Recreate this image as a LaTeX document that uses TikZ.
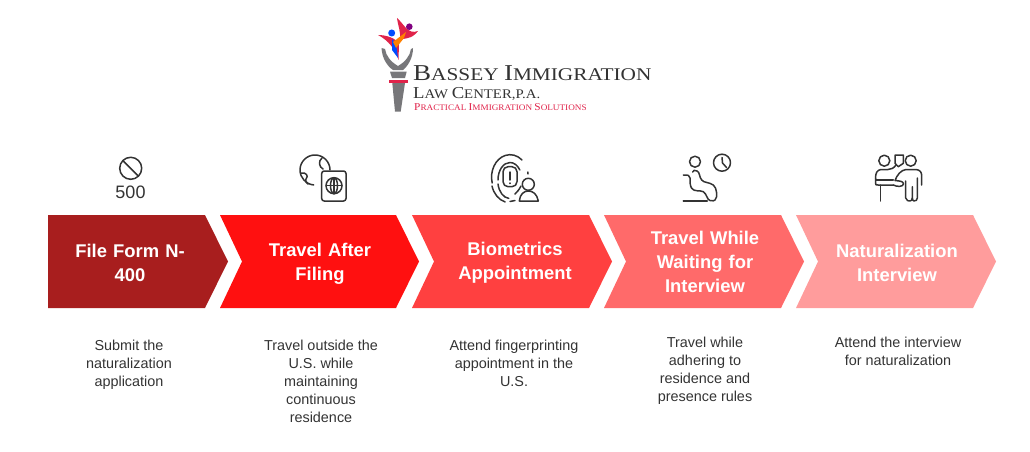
\documentclass[tikz,border=0pt]{standalone}
\usepackage{fontspec}
\setmainfont{Liberation Sans}
\newfontfamily\logofont{Liberation Serif}
\definecolor{stepa}{HTML}{A81E1E}
\definecolor{stepb}{HTML}{FF1010}
\definecolor{stepc}{HTML}{FF4040}
\definecolor{stepd}{HTML}{FF6A6A}
\definecolor{stepe}{HTML}{FF9C9C}
\definecolor{inkgrey}{HTML}{333333}
\definecolor{torchgrey}{HTML}{77777A}
\definecolor{logored}{HTML}{E0234A}
\tikzset{
  x=1pt,y=-1pt,
  steptext/.style={font=\fontsize{18.4}{24}\selectfont\bfseries,text=white,align=center,text width=150pt,inner sep=0pt},
  bodytext/.style={font=\fontsize{14.4}{18}\selectfont,text=inkgrey,align=center,anchor=north,inner sep=0pt},
  icon/.style={draw=inkgrey,line width=1.5pt,line cap=round,line join=round},
}
\newcommand{\chevron}[3]{%
  \fill[#3] (#1,215) -- (#1+#2-23,215) -- (#1+#2,261.5) -- (#1+#2-23,308) -- (#1,308) -- (#1+22,261.5) -- cycle;}
\begin{document}
\begin{tikzpicture}
  \useasboundingbox (0,0) rectangle (1030,452);

  % logo
  \fill[torchgrey] (392.3,83) -- (405,83) -- (400.7,111.7) -- (395,111.7) -- cycle;
  \fill[logored] (389,80) rectangle (408.3,82.7);
  \fill[torchgrey] (390,71.7) -- (406.7,71.7) -- (405,78) -- (392,78) -- cycle;
  \fill[torchgrey] (381.5,48) -- (385,49) .. controls (386,56) and (391,62) .. (398,66) .. controls (405,62) and (410,56) .. (411,49) -- (413,48)
    .. controls (413,58) and (408,66) .. (403,70) -- (393,70) .. controls (387,66) and (382,58) .. (381.5,48) -- cycle;
  \fill[logored] (378,35) .. controls (386,35) and (396,38) .. (399,44) -- (398.5,60) .. controls (396,50) and (388,40) .. (378,35) -- cycle;
  \fill[logored] (397,18) .. controls (404,24) and (408,35) .. (418,31) .. controls (412,40) and (402,38) .. (400,40) .. controls (401,32) and (398,26) .. (397,18) -- cycle;
  \fill[blue!70!cyan] (392,39) -- (396,44) -- (398,58) -- (392,50) -- cycle;
  \fill[orange] (393,42) -- (406,32) -- (404,38) -- (396,48) -- cycle;
  \fill[blue!70!cyan] (391.7,33) circle[radius=3.5];
  \fill[violet] (409.3,26.7) circle[radius=3.3];
  \node[anchor=base west,inner sep=0pt,text=black!80,font=\logofont\fontsize{22.7}{23}\selectfont] (firmname) at (413,81) {\scalebox{1.19}[1]{B\fontsize{17.9}{23}\selectfont ASSEY \fontsize{22.7}{23}\selectfont I\fontsize{17.9}{23}\selectfont MMIGRATION}};
  \node[anchor=base west,inner sep=0pt,text=black!80,font=\logofont\fontsize{16.7}{17}\selectfont] (firmsub) at (413,98) {\scalebox{1.12}[1]{L\fontsize{13.2}{17}\selectfont AW \fontsize{16.7}{17}\selectfont C\fontsize{13.2}{17}\selectfont ENTER,P.A.}};
  \node[anchor=base west,inner sep=0pt,text=logored,font=\logofont\fontsize{10.5}{11}\selectfont] (firmtag) at (414,110.7) {\scalebox{1.08}[1]{P\fontsize{8.5}{11}\selectfont RACTICAL \fontsize{10.5}{11}\selectfont I\fontsize{8.5}{11}\selectfont MMIGRATION \fontsize{10.5}{11}\selectfont S\fontsize{8.5}{11}\selectfont OLUTIONS}};

  % chevrons
  \fill[stepa] (48,215) -- (205,215) -- (228,261.5) -- (205,308) -- (48,308) -- cycle;
  \chevron{220}{199}{stepb}
  \chevron{412}{200}{stepc}
  \chevron{604}{200}{stepd}
  \chevron{796}{200}{stepe}

  % step titles
  \node[steptext] (titlea) at (130,263) {File Form N-\\400};
  \node[steptext] (titleb) at (320,264) {Travel After\\Filing};
  \node[steptext] (titlec) at (515,263) {Biometrics\\Appointment};
  \node[steptext] (titled) at (705,261.5) {Travel While\\Waiting for\\Interview};
  \node[steptext] (titlee) at (897,262.5) {Naturalization\\Interview};

  % descriptions
  \node[bodytext] (bodya) at (129,340) {Submit the\\naturalization\\application};
  \node[bodytext] (bodyb) at (321,340) {Travel outside the\\U.S. while\\maintaining\\continuous\\residence};
  \node[bodytext] (bodyc) at (514,340) {Attend fingerprinting\\appointment in the\\U.S.};
  \node[bodytext] (bodyd) at (705,337) {Travel while\\adhering to\\residence and\\presence rules};
  \node[bodytext] (bodye) at (898,337) {Attend the interview\\for naturalization};

  % icon 1
  \draw[icon] (130.7,168.3) circle[radius=11];
  \draw[icon] (123.3,161) -- (138,175.7);
  \node[inner sep=0pt,text=inkgrey,font=\fontsize{18}{18}\selectfont] (fivehundred) at (130.5,192.5) {500};

  % icon 2
  \draw[icon] (330,170) arc[start angle=0,end angle=-265,radius=15];
  \draw[icon] (301,173) .. controls (306,172) and (309,176) .. (306,179) .. controls (305,181) and (306,183) .. (308,184);
  \draw[icon] (322,158) .. controls (318,161) and (319,167) .. (323,169);
  \draw[icon,rounded corners=2.5pt] (321.7,171) rectangle (346,201);
  \draw[icon] (334,185.7) circle[radius=8];
  \draw[icon] (326,185.7) -- (342,185.7) (334,177.7) -- (334,193.7);
  \draw[icon] (334,185.7) ellipse[x radius=3.5,y radius=8];

  % icon 3
  \draw[icon] (492.2,183) arc[start angle=-195,end angle=-50,x radius=18.5,y radius=22.5];
  \draw[icon] (527.8,172) -- (528,174);
  \draw[icon] (492,186) arc[start angle=165,end angle=105,x radius=18.5,y radius=22.5];
  \draw[icon] (498,180) arc[start angle=-180,end angle=-35,x radius=12,y radius=17.5];
  \draw[icon] (498,184) arc[start angle=170,end angle=95,x radius=12,y radius=17.5];
  \draw[icon,rounded corners=5pt] (503,166.7) rectangle (517,186.7);
  \draw[icon] (510,172) -- (510,180) (510,183) -- (510,183.5);
  \draw[icon] (521,186) .. controls (519,190) and (517,192) .. (515,194);
  \draw[icon] (528.3,184.3) circle[radius=6];
  \draw[icon] (519.3,201) .. controls (520,194) and (524,191) .. (528.3,191) .. controls (533,191) and (537,194) .. (538.3,201) -- cycle;
  \draw[icon] (510,201.5) -- (515,200.5);

  % icon 4
  \draw[icon] (695,161.7) circle[radius=5.5];
  \draw[icon] (722,162.7) circle[radius=8.5];
  \draw[icon] (722,157.5) -- (722.5,163) -- (726.5,167.5);
  \draw[icon] (683.3,201) -- (707.3,201);
  \draw[icon] (683.3,175) .. controls (688,175) and (690,175) .. (690,178) .. controls (690,182) and (690,186) .. (691.7,188.3)
    .. controls (694,192) and (700,190) .. (703.3,191.7) .. controls (707,194) and (707,200) .. (710,200.5) .. controls (712,201) and (715,201) .. (715,200)
    .. controls (717,198) and (717,195) .. (716.7,193.3) .. controls (716,189) and (715,186) .. (713.3,185)
    .. controls (709,182) and (704,183) .. (701.7,180) .. controls (699,177) and (700,172) .. (697,171) .. controls (695,170) and (692.7,170) .. (692.7,172);

  % icon 5
  \draw[icon] (884.3,160.7) circle[radius=5.5];
  \draw[icon] (910.7,160.7) circle[radius=5.5];
  \draw[icon] (895,155) -- (903.3,155) -- (903.3,163.3) -- (898.3,166.7) -- (895,163.3) -- cycle;
  \draw[icon] (875.5,178.5) .. controls (875.5,173) and (877,170) .. (881,169.5) -- (888,169.5) .. controls (891,169.5) and (894,168) .. (896,165);
  \draw[icon] (875.5,178.5) -- (875.5,183) .. controls (875.5,185) and (876,185) .. (878,185) -- (893.3,185);
  \draw[icon] (876,180) -- (893.3,180);
  \draw[icon] (880.7,185) -- (880.7,201);
  \draw[icon] (893.3,185) .. controls (897,187) and (903,187) .. (903.5,184) .. controls (903.5,181) and (899,181) .. (895,180.5)
    .. controls (897,175) and (901,170) .. (906,169.5) -- (916,169.5) .. controls (920,170) and (921.7,172) .. (921.7,176) -- (921.7,185);
  \draw[icon] (905.7,181) -- (905.7,198) .. controls (906,201) and (909,201) .. (910,201) .. controls (911,201) and (912.3,200) .. (912.3,198) -- (912.3,186.7);
  \draw[icon] (912.3,198) .. controls (912.5,200) and (913,201) .. (914,201) .. controls (916,201) and (917.3,200) .. (917.3,198) -- (917.3,178);
\end{tikzpicture}
\end{document}
